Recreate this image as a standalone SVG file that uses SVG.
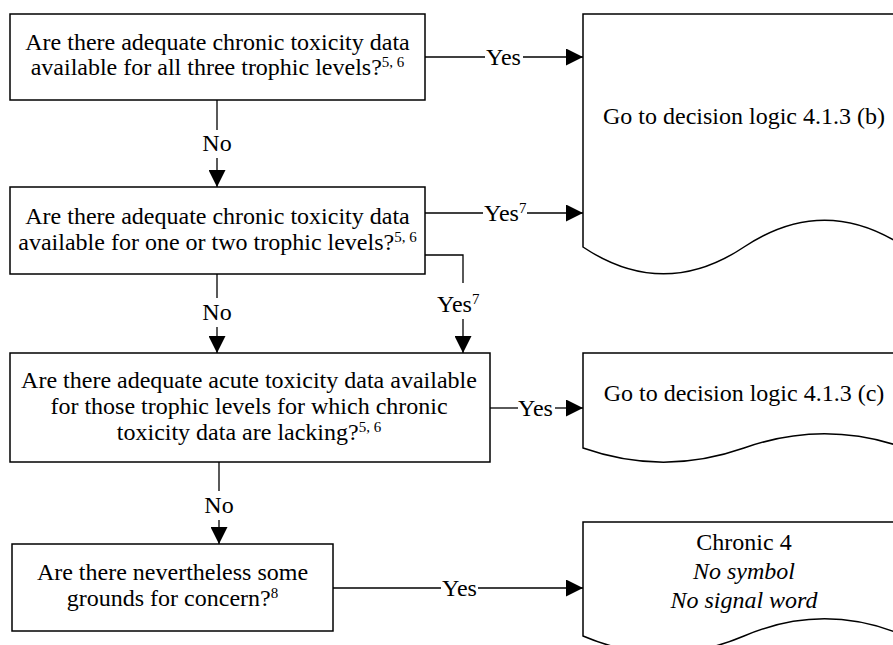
<svg xmlns="http://www.w3.org/2000/svg" width="893" height="645" viewBox="0 0 893 645">
<style>
.box{fill:#fff;stroke:#000;stroke-width:1.5}
.doc{fill:#fff;stroke:#000;stroke-width:1.5}
.t{font-family:"Liberation Serif","Times New Roman",serif;font-size:24px;fill:#000}
.c{text-anchor:middle}
.s{font-size:15px}
.i{font-style:italic}
.ln{fill:none;stroke:#000;stroke-width:1.3}
</style>
<defs>
<marker id="ah" markerUnits="userSpaceOnUse" markerWidth="17" markerHeight="17" refX="17" refY="8.5" orient="auto">
<path d="M0,0 L17,8.5 L0,17 z" fill="#000"/>
</marker>
</defs>
<rect width="893" height="645" fill="#fff"/>
<g id="connectors">
<line class="ln" x1="425" y1="57" x2="485" y2="57"/>
<text class="t" x="486" y="65">Yes</text>
<line class="ln" x1="523" y1="57" x2="583" y2="57" marker-end="url(#ah)"/>
<line class="ln" x1="425" y1="213" x2="483" y2="213"/>
<text class="t" x="484" y="221">Yes<tspan class="s" dy="-8">7</tspan></text>
<line class="ln" x1="527" y1="213" x2="583" y2="213" marker-end="url(#ah)"/>
<path class="ln" d="M425,255 H463 V283"/>
<text class="t" x="437" y="312">Yes<tspan class="s" dy="-8">7</tspan></text>
<line class="ln" x1="463" y1="319" x2="463" y2="353" marker-end="url(#ah)"/>
<line class="ln" x1="217" y1="100" x2="217" y2="130"/>
<text class="t c" x="217" y="151">No</text>
<line class="ln" x1="217" y1="158" x2="217" y2="187" marker-end="url(#ah)"/>
<line class="ln" x1="217" y1="274" x2="217" y2="298"/>
<text class="t c" x="217" y="320">No</text>
<line class="ln" x1="217" y1="327" x2="217" y2="353" marker-end="url(#ah)"/>
<line class="ln" x1="490" y1="408" x2="518" y2="408"/>
<text class="t" x="518" y="416">Yes</text>
<line class="ln" x1="555" y1="408" x2="583" y2="408" marker-end="url(#ah)"/>
<line class="ln" x1="219" y1="462" x2="219" y2="491"/>
<text class="t c" x="219" y="513">No</text>
<line class="ln" x1="219" y1="520" x2="219" y2="544" marker-end="url(#ah)"/>
<line class="ln" x1="333" y1="588" x2="441" y2="588"/>
<text class="t" x="442" y="596">Yes</text>
<line class="ln" x1="478" y1="588" x2="583" y2="588" marker-end="url(#ah)"/>
</g>
<g id="q1">
<rect class="box" x="10" y="14" width="415" height="86"/>
<text class="t c" x="217.5" y="50">Are there adequate chronic toxicity data</text>
<text class="t c" x="217.5" y="75">available for all three trophic levels?<tspan class="s" dy="-8">5, 6</tspan></text>
</g>
<g id="q2">
<rect class="box" x="10" y="187" width="415" height="87"/>
<text class="t c" x="217.5" y="224">Are there adequate chronic toxicity data</text>
<text class="t c" x="217.5" y="250">available for one or two trophic levels?<tspan class="s" dy="-8">5, 6</tspan></text>
</g>
<g id="q3">
<rect class="box" x="10" y="353" width="480" height="109"/>
<text class="t c" x="249" y="388">Are there adequate acute toxicity data available</text>
<text class="t c" x="249" y="414">for those trophic levels for which chronic</text>
<text class="t c" x="249" y="440">toxicity data are lacking?<tspan class="s" dy="-8">5, 6</tspan></text>
</g>
<g id="q4">
<rect class="box" x="12" y="544" width="321" height="87"/>
<text class="t c" x="172.5" y="580">Are there nevertheless some</text>
<text class="t c" x="172.5" y="606">grounds for concern?<tspan class="s" dy="-8">8</tspan></text>
</g>
<g id="d1">
<path class="doc" d="M583,14 H905 V247 C851,211 798,211 744,247 C690,283 637,283 583,247 Z"/>
<text class="t c" x="744" y="124">Go to decision logic 4.1.3 (b)</text>
</g>
<g id="d2">
<path class="doc" d="M583,353 H905 V448 C851,429 798,429 744,448 C690,467 637,467 583,448 Z"/>
<text class="t c" x="744" y="401">Go to decision logic 4.1.3 (c)</text>
</g>
<g id="d3">
<path class="doc" d="M583,522 H905 V636 C851,613 798,613 744,636 C690,659 637,659 583,636 Z"/>
<text class="t c" x="744" y="550">Chronic 4</text>
<text class="t c i" x="744" y="579">No symbol</text>
<text class="t c i" x="744" y="608">No signal word</text>
</g>
</svg>
